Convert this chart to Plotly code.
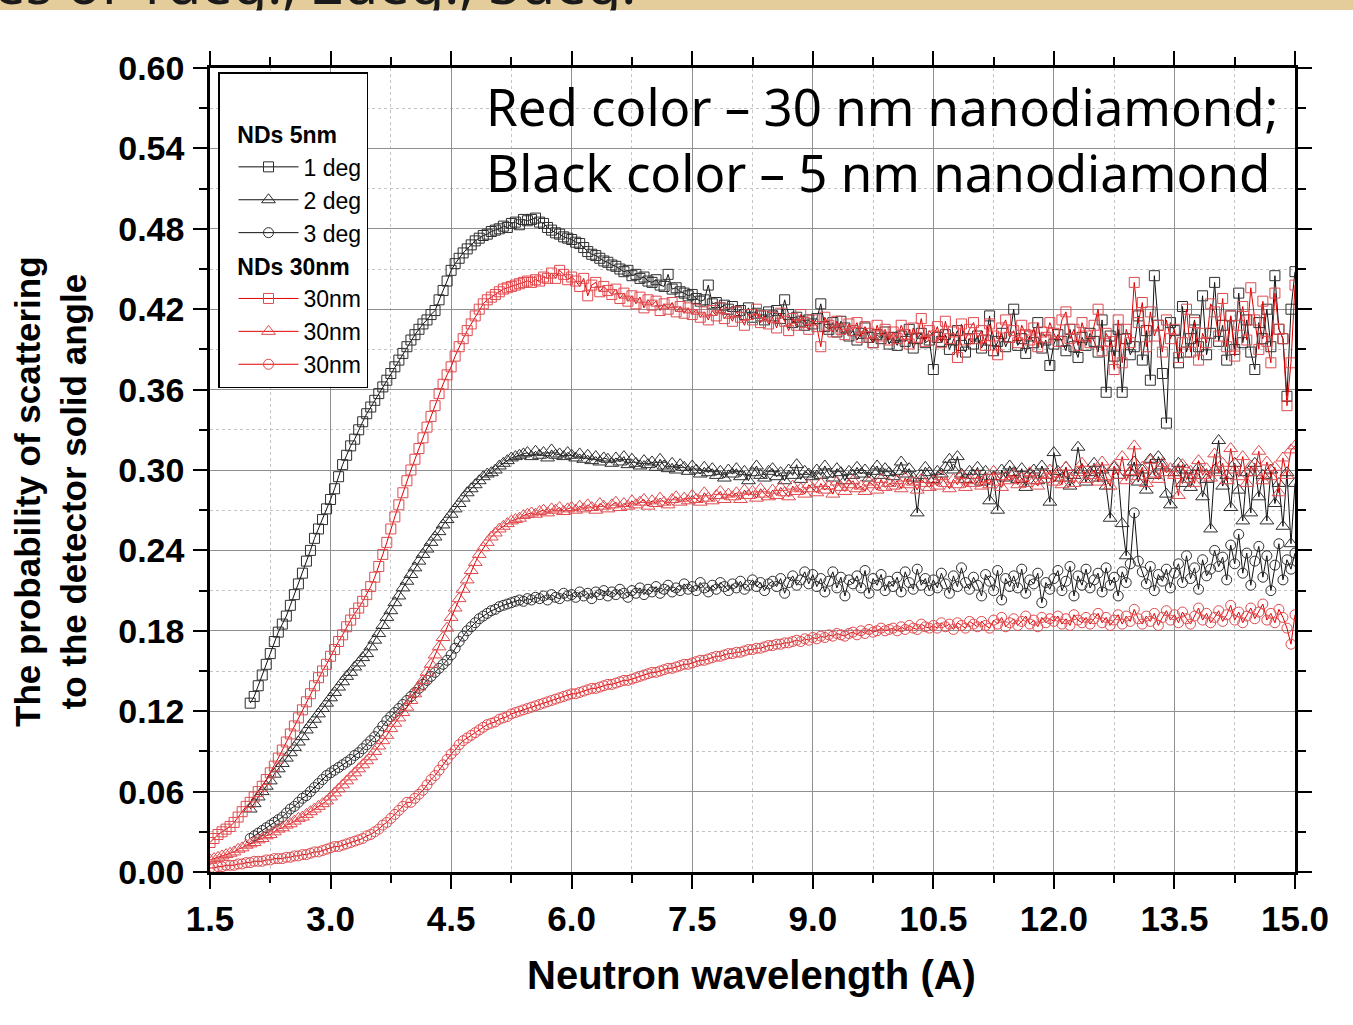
import numpy as np
import plotly.graph_objects as go

# Neutron wavelength sampling grid (A), 1.50 ... 15.00 in 0.05 steps
wavelength = np.round(np.arange(271) * 0.05 + 1.5, 2).tolist()

# NDs 5 nm, 1 deg (black squares)
nd5_1deg = [
    None, None, None, None, None, None, None, None, None, None,
    0.126, 0.131, 0.139, 0.147, 0.155, 0.163, 0.172, 0.179, 0.185, 0.191,
    0.199, 0.207, 0.215, 0.223, 0.232, 0.240, 0.249, 0.256, 0.263, 0.271,
    0.278, 0.286, 0.295, 0.304, 0.311, 0.318, 0.323, 0.330, 0.336, 0.342,
    0.347, 0.352, 0.357, 0.362, 0.367, 0.372, 0.377, 0.382, 0.387, 0.392,
    0.397, 0.401, 0.405, 0.409, 0.412, 0.416, 0.419, 0.427, 0.434, 0.441,
    0.449, 0.454, 0.458, 0.462, 0.465, 0.468, 0.471, 0.473, 0.475, 0.476,
    0.478, 0.479, 0.480, 0.482, 0.481, 0.484, 0.485, 0.483, 0.487, 0.486,
    0.487, 0.488, 0.485, 0.484, 0.481, 0.479, 0.477, 0.476, 0.474, 0.473,
    0.472, 0.470, 0.469, 0.466, 0.463, 0.461, 0.460, 0.458, 0.456, 0.455,
    0.453, 0.452, 0.450, 0.448, 0.449, 0.445, 0.446, 0.443, 0.444, 0.441,
    0.440, 0.442, 0.438, 0.437, 0.446, 0.435, 0.436, 0.433, 0.432, 0.430,
    0.431, 0.428, 0.426, 0.427, 0.438, 0.424, 0.425, 0.421, 0.423, 0.420,
    0.422, 0.418, 0.419, 0.416, 0.421, 0.414, 0.417, 0.415, 0.412, 0.418,
    0.415, 0.419, 0.413, 0.427, 0.416, 0.410, 0.414, 0.411, 0.408, 0.412,
    0.409, 0.413, 0.424, 0.407, 0.405, 0.410, 0.403, 0.411, 0.406, 0.400,
    0.404, 0.397, 0.402, 0.406, 0.399, 0.395, 0.401, 0.398, 0.403, 0.394,
    0.399, 0.393, 0.400, 0.396, 0.405, 0.391, 0.398, 0.402, 0.395, 0.397,
    0.375, 0.399, 0.396, 0.401, 0.390, 0.397, 0.404, 0.393, 0.388, 0.398,
    0.394, 0.400, 0.391, 0.397, 0.415, 0.389, 0.396, 0.402, 0.392, 0.399,
    0.420, 0.393, 0.398, 0.387, 0.400, 0.395, 0.410, 0.391, 0.397, 0.378,
    0.394, 0.401, 0.396, 0.389, 0.405, 0.392, 0.384, 0.399, 0.393, 0.402,
    0.396, 0.388, 0.412, 0.358, 0.400, 0.385, 0.405, 0.358, 0.398, 0.386,
    0.392, 0.415, 0.382, 0.404, 0.367, 0.445, 0.408, 0.372, 0.335, 0.410,
    0.404, 0.380, 0.422, 0.388, 0.398, 0.412, 0.392, 0.430, 0.386, 0.402,
    0.440, 0.396, 0.408, 0.382, 0.415, 0.390, 0.432, 0.395, 0.412, 0.388,
    0.375, 0.410, 0.398, 0.420, 0.392, 0.445, 0.405, 0.398, 0.355, 0.420,
    0.448,
]

# NDs 5 nm, 2 deg (black triangles)
nd5_2deg = [
    None, None, None, None, None, None, None, None, None, None,
    0.047, 0.051, 0.056, 0.060, 0.064, 0.068, 0.073, 0.077, 0.081, 0.085,
    0.089, 0.093, 0.097, 0.101, 0.106, 0.110, 0.114, 0.118, 0.122, 0.126,
    0.130, 0.134, 0.138, 0.142, 0.146, 0.149, 0.153, 0.156, 0.160, 0.163,
    0.168, 0.173, 0.178, 0.184, 0.190, 0.195, 0.201, 0.206, 0.212, 0.217,
    0.222, 0.227, 0.232, 0.237, 0.241, 0.246, 0.250, 0.254, 0.259, 0.263,
    0.267, 0.271, 0.275, 0.279, 0.283, 0.286, 0.289, 0.292, 0.295, 0.297,
    0.298, 0.300, 0.303, 0.305, 0.307, 0.309, 0.310, 0.311, 0.312, 0.313,
    0.310, 0.314, 0.311, 0.313, 0.309, 0.315, 0.311, 0.312, 0.310, 0.313,
    0.311, 0.309, 0.312, 0.308, 0.311, 0.307, 0.310, 0.306, 0.309, 0.308,
    0.305, 0.309, 0.306, 0.310, 0.304, 0.308, 0.305, 0.303, 0.307, 0.304,
    0.306, 0.302, 0.308, 0.303, 0.301, 0.305, 0.300, 0.304, 0.302, 0.299,
    0.303, 0.300, 0.297, 0.302, 0.298, 0.301, 0.296, 0.299, 0.294, 0.300,
    0.297, 0.301, 0.295, 0.299, 0.292, 0.298, 0.303, 0.296, 0.294, 0.299,
    0.301, 0.295, 0.298, 0.292, 0.300, 0.296, 0.304, 0.293, 0.299, 0.297,
    0.295, 0.300, 0.296, 0.303, 0.297, 0.294, 0.301, 0.298, 0.292, 0.299,
    0.296, 0.302, 0.297, 0.300, 0.294, 0.299, 0.303, 0.296, 0.301, 0.298,
    0.295, 0.299, 0.306, 0.297, 0.301, 0.294, 0.268, 0.296, 0.302, 0.298,
    0.293, 0.299, 0.297, 0.302, 0.308, 0.300, 0.310, 0.297, 0.293, 0.299,
    0.296, 0.302, 0.291, 0.299, 0.277, 0.295, 0.270, 0.300, 0.294, 0.303,
    0.298, 0.293, 0.301, 0.287, 0.297, 0.300, 0.292, 0.303, 0.296, 0.276,
    0.313, 0.299, 0.294, 0.302, 0.288, 0.296, 0.317, 0.300, 0.291, 0.298,
    0.305, 0.294, 0.300, 0.288, 0.264, 0.302, 0.296, 0.260, 0.236, 0.298,
    0.306, 0.291, 0.300, 0.285, 0.308, 0.296, 0.310, 0.303, 0.282, 0.274,
    0.298, 0.305, 0.290, 0.300, 0.287, 0.296, 0.302, 0.280, 0.293, 0.256,
    0.300, 0.322, 0.288, 0.296, 0.272, 0.305, 0.285, 0.262, 0.298, 0.268,
    0.305, 0.280, 0.296, 0.262, 0.300, 0.275, 0.290, 0.258, 0.298, 0.245,
    0.290,
]

# NDs 5 nm, 3 deg (black circles)
nd5_3deg = [
    None, None, None, None, None, None, None, None, None, None,
    0.025, 0.027, 0.029, 0.031, 0.033, 0.035, 0.037, 0.039, 0.041, 0.044,
    0.047, 0.049, 0.052, 0.055, 0.057, 0.060, 0.063, 0.066, 0.069, 0.072,
    0.074, 0.076, 0.078, 0.080, 0.082, 0.084, 0.087, 0.089, 0.092, 0.095,
    0.098, 0.101, 0.105, 0.109, 0.113, 0.116, 0.119, 0.122, 0.125, 0.128,
    0.131, 0.134, 0.137, 0.140, 0.143, 0.146, 0.149, 0.152, 0.155, 0.158,
    0.162, 0.167, 0.172, 0.176, 0.180, 0.183, 0.186, 0.189, 0.191, 0.193,
    0.195, 0.196, 0.198, 0.199, 0.200, 0.201, 0.202, 0.203, 0.202, 0.204,
    0.203, 0.205, 0.204, 0.206, 0.203, 0.207, 0.205, 0.204, 0.208, 0.206,
    0.207, 0.205, 0.209, 0.206, 0.208, 0.204, 0.209, 0.207, 0.210, 0.206,
    0.209, 0.207, 0.211, 0.208, 0.205, 0.210, 0.208, 0.212, 0.207, 0.211,
    0.209, 0.213, 0.208, 0.211, 0.214, 0.209, 0.212, 0.210, 0.215, 0.211,
    0.213, 0.210, 0.216, 0.212, 0.209, 0.214, 0.211, 0.216, 0.213, 0.210,
    0.215, 0.212, 0.217, 0.211, 0.214, 0.218, 0.213, 0.216, 0.210, 0.215,
    0.217, 0.213, 0.219, 0.208, 0.216, 0.221, 0.214, 0.218, 0.224, 0.215,
    0.222, 0.213, 0.219, 0.209, 0.217, 0.224, 0.212, 0.220, 0.206, 0.218,
    0.215, 0.221, 0.212, 0.225, 0.208, 0.219, 0.214, 0.222, 0.210, 0.217,
    0.213, 0.220, 0.209, 0.224, 0.216, 0.211, 0.226, 0.214, 0.219, 0.210,
    0.218, 0.212, 0.223, 0.215, 0.208, 0.221, 0.213, 0.227, 0.216, 0.211,
    0.220, 0.214, 0.206, 0.222, 0.217, 0.210, 0.225, 0.203, 0.219, 0.213,
    0.221, 0.212, 0.226, 0.208, 0.218, 0.215, 0.223, 0.201, 0.216, 0.211,
    0.219, 0.225, 0.210, 0.217, 0.228, 0.206, 0.221, 0.214, 0.226, 0.212,
    0.218, 0.223, 0.209, 0.227, 0.214, 0.220, 0.206, 0.224, 0.216, 0.230,
    0.268, 0.232, 0.224, 0.215, 0.228, 0.210, 0.222, 0.217, 0.226, 0.212,
    0.223, 0.230, 0.216, 0.236, 0.219, 0.227, 0.211, 0.233, 0.221, 0.226,
    0.240, 0.228, 0.235, 0.218, 0.244, 0.230, 0.252, 0.223, 0.238, 0.214,
    0.232, 0.243, 0.220, 0.236, 0.210, 0.229, 0.245, 0.218, 0.233, 0.226,
    0.238,
]

# NDs 30 nm, 1 deg (red squares)
nd30_1deg = [
    0.022, 0.025, 0.028, 0.030, 0.032, 0.034, 0.037, 0.041, 0.045, 0.049,
    0.052, 0.056, 0.060, 0.064, 0.069, 0.074, 0.079, 0.085, 0.091, 0.097,
    0.103, 0.109, 0.115, 0.121, 0.127, 0.133, 0.139, 0.145, 0.150, 0.155,
    0.161, 0.166, 0.172, 0.177, 0.183, 0.188, 0.193, 0.197, 0.202, 0.207,
    0.213, 0.220, 0.228, 0.237, 0.246, 0.256, 0.265, 0.274, 0.283, 0.292,
    0.300, 0.308, 0.316, 0.324, 0.332, 0.340, 0.348, 0.357, 0.364, 0.371,
    0.377, 0.385, 0.392, 0.398, 0.404, 0.409, 0.415, 0.420, 0.424, 0.427,
    0.429, 0.431, 0.433, 0.435, 0.436, 0.437, 0.438, 0.439, 0.440, 0.441,
    0.440, 0.442, 0.441, 0.444, 0.443, 0.447, 0.443, 0.449, 0.446, 0.442,
    0.444, 0.441, 0.437, 0.443, 0.430, 0.438, 0.440, 0.433, 0.437, 0.434,
    0.431, 0.435, 0.428, 0.432, 0.426, 0.430, 0.424, 0.429, 0.421, 0.427,
    0.423, 0.426, 0.419, 0.424, 0.420, 0.425, 0.418, 0.422, 0.417, 0.421,
    0.416, 0.420, 0.414, 0.418, 0.412, 0.419, 0.415, 0.421, 0.413, 0.417,
    0.411, 0.418, 0.414, 0.408, 0.416, 0.412, 0.420, 0.410, 0.415, 0.409,
    0.414, 0.406, 0.417, 0.411, 0.404, 0.413, 0.408, 0.416, 0.410, 0.405,
    0.412, 0.407, 0.392, 0.414, 0.408, 0.403, 0.411, 0.405, 0.401, 0.409,
    0.404, 0.410, 0.399, 0.407, 0.402, 0.395, 0.408, 0.400, 0.405, 0.397,
    0.403, 0.398, 0.408, 0.401, 0.394, 0.406, 0.399, 0.413, 0.396, 0.404,
    0.400, 0.407, 0.395, 0.411, 0.398, 0.403, 0.384, 0.409, 0.397, 0.405,
    0.410, 0.398, 0.404, 0.393, 0.409, 0.400, 0.386, 0.406, 0.412, 0.399,
    0.404, 0.395, 0.408, 0.401, 0.397, 0.406, 0.392, 0.403, 0.399, 0.410,
    0.402, 0.396, 0.412, 0.418, 0.398, 0.405, 0.393, 0.410, 0.400, 0.395,
    0.408, 0.420, 0.389, 0.402, 0.396, 0.375, 0.412, 0.380, 0.405, 0.395,
    0.440, 0.410, 0.425, 0.392, 0.418, 0.400, 0.408, 0.388, 0.412, 0.398,
    0.405, 0.384, 0.395, 0.420, 0.388, 0.410, 0.382, 0.402, 0.395, 0.424,
    0.418, 0.400, 0.428, 0.392, 0.415, 0.385, 0.408, 0.422, 0.397, 0.436,
    0.412, 0.390, 0.426, 0.396, 0.380, 0.432, 0.405, 0.398, 0.348, 0.380,
    0.438,
]

# NDs 30 nm, 2 deg (red triangles)
nd30_2deg = [
    0.009, 0.010, 0.011, 0.012, 0.013, 0.014, 0.015, 0.017, 0.018, 0.020,
    0.021, 0.022, 0.024, 0.025, 0.027, 0.028, 0.030, 0.032, 0.033, 0.035,
    0.036, 0.038, 0.040, 0.041, 0.043, 0.045, 0.047, 0.049, 0.051, 0.053,
    0.056, 0.059, 0.062, 0.065, 0.068, 0.071, 0.074, 0.077, 0.080, 0.083,
    0.086, 0.090, 0.094, 0.098, 0.102, 0.107, 0.111, 0.115, 0.119, 0.123,
    0.128, 0.133, 0.138, 0.143, 0.149, 0.155, 0.162, 0.168, 0.175, 0.182,
    0.190, 0.197, 0.204, 0.211, 0.218, 0.225, 0.231, 0.237, 0.242, 0.246,
    0.250, 0.253, 0.256, 0.258, 0.260, 0.262, 0.263, 0.264, 0.266, 0.267,
    0.268, 0.267, 0.269, 0.270, 0.268, 0.271, 0.270, 0.272, 0.269, 0.271,
    0.272, 0.270, 0.273, 0.271, 0.274, 0.272, 0.270, 0.275, 0.273, 0.271,
    0.274, 0.276, 0.272, 0.275, 0.273, 0.277, 0.274, 0.276, 0.278, 0.273,
    0.277, 0.275, 0.279, 0.276, 0.274, 0.278, 0.280, 0.276, 0.279, 0.277,
    0.281, 0.278, 0.276, 0.283, 0.279, 0.277, 0.281, 0.284, 0.278, 0.282,
    0.280, 0.283, 0.278, 0.285, 0.281, 0.284, 0.279, 0.286, 0.282, 0.280,
    0.285, 0.281, 0.287, 0.283, 0.280, 0.288, 0.284, 0.286, 0.282, 0.289,
    0.286, 0.283, 0.290, 0.285, 0.288, 0.282, 0.291, 0.287, 0.284, 0.289,
    0.292, 0.286, 0.288, 0.284, 0.291, 0.289, 0.285, 0.293, 0.287, 0.290,
    0.288, 0.292, 0.286, 0.294, 0.289, 0.291, 0.285, 0.293, 0.290, 0.287,
    0.292, 0.288, 0.295, 0.290, 0.286, 0.293, 0.289, 0.296, 0.287, 0.292,
    0.290, 0.296, 0.288, 0.293, 0.289, 0.299, 0.291, 0.287, 0.295, 0.292,
    0.297, 0.289, 0.294, 0.290, 0.298, 0.292, 0.288, 0.296, 0.293, 0.300,
    0.291, 0.297, 0.289, 0.302, 0.294, 0.290, 0.298, 0.305, 0.293, 0.296,
    0.300, 0.291, 0.306, 0.295, 0.288, 0.303, 0.296, 0.310, 0.292, 0.299,
    0.318, 0.295, 0.302, 0.290, 0.307, 0.297, 0.293, 0.305, 0.298, 0.301,
    0.296, 0.281, 0.304, 0.293, 0.299, 0.290, 0.307, 0.296, 0.301, 0.294,
    0.312, 0.298, 0.305, 0.292, 0.316, 0.300, 0.295, 0.310, 0.290, 0.303,
    0.298, 0.314, 0.292, 0.306, 0.295, 0.302, 0.283, 0.309, 0.296, 0.315,
    0.318,
]

# NDs 30 nm, 3 deg (red circles)
nd30_3deg = [
    0.003, 0.003, 0.004, 0.004, 0.005, 0.005, 0.005, 0.006, 0.006, 0.007,
    0.007, 0.008, 0.008, 0.008, 0.009, 0.009, 0.010, 0.010, 0.010, 0.011,
    0.011, 0.012, 0.012, 0.013, 0.013, 0.014, 0.015, 0.015, 0.016, 0.017,
    0.018, 0.019, 0.019, 0.020, 0.021, 0.022, 0.023, 0.024, 0.025, 0.027,
    0.028, 0.030, 0.032, 0.035, 0.037, 0.040, 0.043, 0.046, 0.049, 0.052,
    0.052, 0.055, 0.058, 0.061, 0.065, 0.069, 0.072, 0.076, 0.080, 0.084,
    0.088, 0.091, 0.095, 0.098, 0.100, 0.102, 0.104, 0.106, 0.108, 0.110,
    0.111, 0.112, 0.114, 0.115, 0.116, 0.118, 0.119, 0.120, 0.121, 0.122,
    0.123, 0.124, 0.125, 0.126, 0.127, 0.128, 0.129, 0.130, 0.131, 0.132,
    0.133, 0.133, 0.134, 0.135, 0.136, 0.137, 0.137, 0.138, 0.139, 0.140,
    0.140, 0.141, 0.142, 0.143, 0.143, 0.144, 0.145, 0.146, 0.147, 0.148,
    0.149, 0.149, 0.150, 0.151, 0.152, 0.152, 0.153, 0.154, 0.155, 0.155,
    0.156, 0.157, 0.158, 0.158, 0.159, 0.160, 0.161, 0.161, 0.162, 0.163,
    0.163, 0.164, 0.164, 0.165, 0.166, 0.166, 0.167, 0.167, 0.168, 0.169,
    0.169, 0.170, 0.170, 0.171, 0.171, 0.172, 0.173, 0.172, 0.174, 0.173,
    0.175, 0.174, 0.176, 0.175, 0.177, 0.176, 0.178, 0.177, 0.176, 0.178,
    0.179, 0.177, 0.180, 0.178, 0.181, 0.179, 0.180, 0.182, 0.180, 0.181,
    0.182, 0.180, 0.183, 0.181, 0.184, 0.182, 0.181, 0.185, 0.183, 0.182,
    0.184, 0.182, 0.186, 0.183, 0.185, 0.181, 0.186, 0.184, 0.182, 0.187,
    0.185, 0.183, 0.187, 0.184, 0.182, 0.188, 0.185, 0.190, 0.183, 0.186,
    0.189, 0.184, 0.187, 0.191, 0.185, 0.188, 0.183, 0.190, 0.186, 0.189,
    0.187, 0.191, 0.185, 0.189, 0.184, 0.192, 0.188, 0.186, 0.190, 0.185,
    0.189, 0.193, 0.186, 0.190, 0.184, 0.188, 0.192, 0.185, 0.191, 0.187,
    0.196, 0.189, 0.185, 0.191, 0.187, 0.193, 0.184, 0.190, 0.195, 0.188,
    0.192, 0.186, 0.194, 0.189, 0.185, 0.191, 0.197, 0.188, 0.193, 0.186,
    0.190, 0.195, 0.187, 0.192, 0.199, 0.188, 0.194, 0.186, 0.191, 0.197,
    0.189, 0.194, 0.200, 0.188, 0.193, 0.186, 0.196, 0.190, 0.182, 0.170,
    0.192,
]

series_names = ["1 deg", "2 deg", "3 deg", "30nm", "30nm", "30nm"]
group_titles = ["NDs 5nm", "NDs 30nm"]
x_ticks = [1.5, 3.0, 4.5, 6.0, 7.5, 9.0, 10.5, 12.0, 13.5, 15.0]
y_ticks = [0.00, 0.06, 0.12, 0.18, 0.24, 0.30, 0.36, 0.42, 0.48, 0.54, 0.60]

for s in (nd5_1deg, nd5_2deg, nd5_3deg, nd30_1deg, nd30_2deg, nd30_3deg):
    assert len(s) == len(wavelength), len(s)

BLACK_M = "#2e2e2e"
BLACK_L = "#111111"
RED_M = "#e04a4e"
RED_L = "#e00000"
SANS = "Liberation Sans, Arial, sans-serif"

fig = go.Figure()
specs = [
    (nd5_1deg, "square-open", 10, BLACK_M, BLACK_L, "g5", group_titles[0], series_names[0]),
    (nd5_2deg, "triangle-up-open", 12, BLACK_M, BLACK_L, "g5", group_titles[0], series_names[1]),
    (nd5_3deg, "circle-open", 10, BLACK_M, BLACK_L, "g5", group_titles[0], series_names[2]),
    (nd30_1deg, "square-open", 10, RED_M, RED_L, "g30", group_titles[1], series_names[3]),
    (nd30_2deg, "triangle-up-open", 12, RED_M, RED_L, "g30", group_titles[1], series_names[4]),
    (nd30_3deg, "circle-open", 10, RED_M, RED_L, "g30", group_titles[1], series_names[5]),
]
for ys, sym, sz, mc, lc, grp, gtitle, name in specs:
    fig.add_trace(go.Scatter(
        x=wavelength, y=ys, mode="lines+markers", name=name,
        legendgroup=grp,
        legendgrouptitle=dict(text="&nbsp;&nbsp;" + gtitle,
                              font=dict(family=SANS, size=23, color="black", weight="bold")),
        line=dict(color=lc, width=1),
        marker=dict(symbol=sym, size=sz, color=mc, line=dict(color=mc, width=1)),
        connectgaps=False,
    ))

axis_common = dict(
    showline=True, linecolor="black", linewidth=2.5, mirror="ticks",
    ticks="outside", ticklen=14, tickwidth=2, tickcolor="black",
    showgrid=True, gridcolor="#8f8f8f", gridwidth=1.2, zeroline=False,
    tickfont=dict(family=SANS, color="black", weight="bold"),
)

fig.update_xaxes(
    **axis_common,
    range=[1.5, 15.0], tickvals=x_ticks, ticktext=[f"{v:.1f}" for v in x_ticks],
    ticklabelstandoff=0,
    minor=dict(dtick=0.75, tick0=1.5, ticks="outside", ticklen=8, tickwidth=2, tickcolor="black",
               showgrid=True, gridcolor="#c4c4c4", griddash="dot", gridwidth=1),
)
fig.update_xaxes(tickfont_size=35)
fig.update_yaxes(
    **axis_common,
    range=[0, 0.60], tickvals=y_ticks, ticktext=[f"{v:.2f}" for v in y_ticks],
    ticklabelstandoff=2,
    minor=dict(dtick=0.03, tick0=0, ticks="outside", ticklen=8, tickwidth=2, tickcolor="black",
               showgrid=True, gridcolor="#c4c4c4", griddash="dot", gridwidth=1),
)
fig.update_yaxes(tickfont_size=34)

W, H = 1353, 1025
L, R, T, B = 210, 58, 68, 153
pw, ph = W - L - R, H - T - B

def px(xp):
    return (xp - L) / pw

def py(yp):
    return (H - B - yp) / ph

annotations = [
    dict(text="Red color – 30 nm nanodiamond;<br>Black color – 5 nm nanodiamond",
         xref="paper", yref="paper", x=px(484), y=py(69), xanchor="left", yanchor="top",
         align="left", showarrow=False,
         font=dict(family="Noto Sans, sans-serif", size=51, color="black")),
    dict(text="Neutron wavelength (A)", xref="paper", yref="paper",
         x=px(751), y=py(975), xanchor="center", yanchor="middle", showarrow=False,
         font=dict(family=SANS, size=40, color="black", weight="bold")),
    dict(text="The probability of scattering<br>to the detector solid angle",
         xref="paper", yref="paper", x=px(50), y=py(492), xanchor="center", yanchor="middle",
         textangle=-90, showarrow=False,
         font=dict(family=SANS, size=35, color="black", weight="bold")),
    dict(text="es of 1deg., 2deg., 3deg.", xref="paper", yref="paper",
         x=px(-8), y=py(22), xanchor="left", yanchor="bottom", showarrow=False,
         font=dict(family="Noto Sans, sans-serif", size=56, color="#1a1a1a")),
    dict(text=" ", xref="paper", yref="paper", x=px(0), y=py(10), xanchor="left", yanchor="top",
         width=W + 10, height=34, bgcolor="white", borderpad=0, showarrow=False,
         font=dict(size=10)),
]

fig.update_layout(
    width=W, height=H, autosize=False,
    margin=dict(l=L, r=R, t=T, b=B, pad=0),
    paper_bgcolor="white", plot_bgcolor="white",
    showlegend=True,
    legend=dict(
        x=px(218), y=py(72), xanchor="left", yanchor="top",
        bgcolor="white", bordercolor="black", borderwidth=1.5,
        font=dict(family=SANS, size=23, color="black"),
        traceorder="grouped", tracegroupgap=0, itemwidth=60, indentation=14,
        title=dict(text="&nbsp;", font=dict(size=30)),
    ),
    annotations=annotations,
    shapes=[dict(type="rect", xref="paper", yref="paper", x0=px(-10), x1=px(W + 10),
                 y0=py(10), y1=py(-10), fillcolor="#e4cc9b", line=dict(width=0), layer="below")],
)

fig.write_html("out.html")
